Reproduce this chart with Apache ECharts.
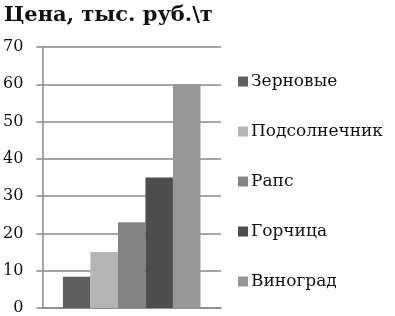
<!DOCTYPE html>
<html>
<head>
<meta charset="utf-8">
<script src="https://cdn.jsdelivr.net/npm/echarts@6/dist/echarts.min.js"></script>
<style>
  html, body { margin: 0; padding: 0; background: #fff; }
  #chart { width: 395px; height: 316px; }
</style>
</head>
<body>
<div id="chart"></div>
<script>
// данные
const CROPS = ['Зерновые', 'Подсолнечник', 'Рапс', 'Горчица', 'Виноград']
const PRICES = [8.4, 15, 23, 35, 60]
const COLORS = ['#5f5f5f', '#b5b5b5', '#848484', '#4d4d4d', '#969696']
const Y_TICKS = [0, 10, 20, 30, 40, 50, 60, 70]

const chart = echarts.init(document.getElementById('chart'))
const serif = '"DejaVu Serif", "Liberation Serif", serif'

const option = {
  animation: false,
  backgroundColor: '#fff',
  title: {
    text: 'Цена, тыс. руб.\\т',
    left: -1,
    top: 0,
    textStyle: { fontFamily: serif, fontSize: 21, fontWeight: 'bold', color: '#111' }
  },
  legend: {
    orient: 'vertical',
    left: 233,
    top: 68,
    itemWidth: 10,
    itemHeight: 10,
    itemGap: 33,
    icon: 'rect',
    textStyle: { fontFamily: serif, fontSize: 17, color: '#111', padding: [0, 0, 0, -2] },
    data: CROPS
  },
  grid: { left: 41, right: 174, top: 47, bottom: 8 },
  xAxis: {
    type: 'category',
    data: [''],
    axisLine: { lineStyle: { color: '#888', width: 1.5 } },
    axisTick: { show: false },
    axisLabel: { show: false }
  },
  yAxis: {
    type: 'value',
    min: Y_TICKS[0],
    max: Y_TICKS[Y_TICKS.length - 1],
    interval: 10,
    axisLine: { show: true, lineStyle: { color: '#888', width: 1.5 } },
    axisTick: { show: true, length: 6, lineStyle: { color: '#888', width: 1.5 } },
    splitLine: { lineStyle: { color: '#888', width: 1.5 } },
    axisLabel: { fontFamily: serif, fontSize: 16, color: '#111', margin: 19 }
  },
  series: CROPS.map((name, i) => ({
    name,
    type: 'bar',
    data: [PRICES[i]],
    barGap: '0%',
    barCategoryGap: '23%',
    itemStyle: { color: COLORS[i] }
  }))
}
chart.setOption(option)
</script>
</body>
</html>
